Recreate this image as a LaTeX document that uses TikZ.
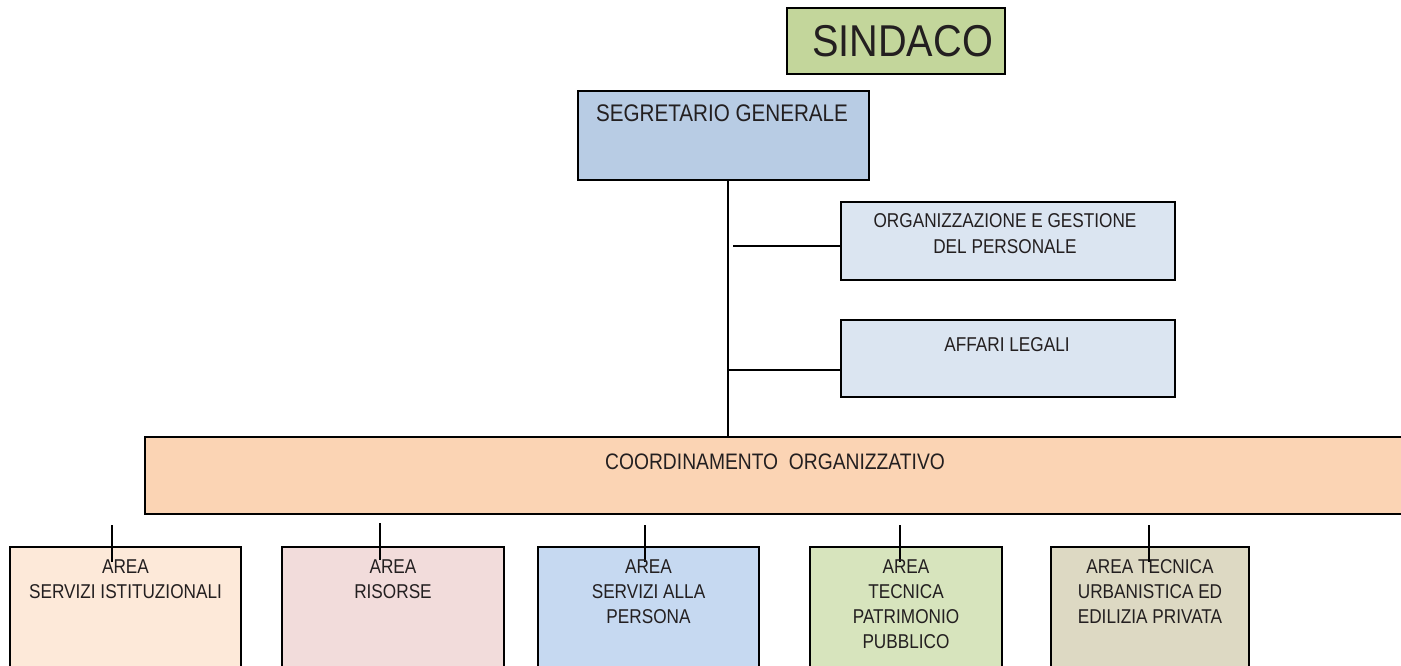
\documentclass[tikz,border=0pt]{standalone}
\usepackage{fontspec}
\setmainfont{Liberation Sans}[FakeStretch=0.86]
\newfontfamily\bigsans{Liberation Sans}[FakeStretch=0.89]
\definecolor{cSind}{HTML}{C3D69B}
\definecolor{cSegr}{HTML}{B8CCE4}
\definecolor{cStaff}{HTML}{DBE5F1}
\definecolor{cCoord}{HTML}{FBD4B4}
\definecolor{cB1}{HTML}{FDE9D9}
\definecolor{cB2}{HTML}{F2DCDB}
\definecolor{cB3}{HTML}{C6D9F1}
\definecolor{cB4}{HTML}{D7E4BD}
\definecolor{cB5}{HTML}{DDD9C3}
\definecolor{ink}{HTML}{231F20}
\tikzset{
  box/.style={draw=black, line width=1pt, rectangle, inner sep=0pt},
  lbl/.style={anchor=north, inner sep=0pt, align=center, text=ink},
  small/.style={font=\fontsize{10}{12.5}\selectfont},
  conn/.style={draw=black, line width=0.8pt}
}
\begin{document}
\begin{tikzpicture}[x=0.5pt,y=-0.5pt]
\useasboundingbox (0,0) rectangle (1401,665);
\clip (0,0) rectangle (1401,665);
% boxes
\node[box, line width=1.4pt, fill=cSind, minimum width=109pt, minimum height=33pt] (sindaco) at (896,41) {};
\node[box, fill=cSegr, minimum width=145.5pt, minimum height=44.5pt] (segr) at (723.5,135.5) {};
\node[box, fill=cStaff, minimum width=167pt, minimum height=39pt] (org) at (1008,241) {};
\node[box, fill=cStaff, minimum width=167pt, minimum height=38.5pt] (aff) at (1008,358.5) {};
\node[box, fill=cCoord, minimum width=637.5pt, minimum height=38.5pt] (coord) at (782.5,475.5) {};
\node[box, fill=cB1, minimum width=115.5pt, minimum height=76.5pt] (b1) at (125.5,623.5) {};
\node[box, fill=cB2, minimum width=111pt, minimum height=76.5pt] (b2) at (393,623.5) {};
\node[box, fill=cB3, minimum width=110.5pt, minimum height=76.5pt] (b3) at (648.5,623.5) {};
\node[box, fill=cB4, minimum width=96pt, minimum height=76.5pt] (b4) at (906,623.5) {};
\node[box, fill=cB5, minimum width=99pt, minimum height=76.5pt] (b5) at (1150,623.5) {};
% connectors
\coordinate (trunk) at (728,180);
\draw[conn] (trunk) -- (trunk |- coord.north);
\coordinate (orgL) at (733,246);
\draw[conn] (orgL) -- (orgL -| org.west);
\coordinate (affL) at (728,370);
\draw[conn] (affL) -- (affL -| aff.west);
\coordinate (s1) at (112,525);
\coordinate (s2) at (380,523);
\coordinate (s3) at (645,525);
\coordinate (s4) at (900,525);
\coordinate (s5) at (1149,525);
\foreach \s in {s1,s2,s3,s4,s5} {\draw[conn] (\s) -- ++(0,37);}
% labels
\node[lbl, font=\bigsans\fontsize{22.3}{26}\selectfont] (tSind) at (902.5,25) {SINDACO};
\node[lbl, font=\fontsize{12}{14}\selectfont] (tSegr) at (722,104) {SEGRETARIO GENERALE};
\node[lbl, font=\fontsize{10}{13.3}\selectfont] (tOrg) at (1005,213) {ORGANIZZAZIONE E GESTIONE\\DEL PERSONALE};
\node[lbl, small] (tAff) at (1007,337) {AFFARI LEGALI};
\node[lbl, font=\fontsize{11.2}{13}\selectfont] (tCoord) at (775,453) {COORDINAMENTO\ \ ORGANIZZATIVO};
\node[lbl, small] (tB1) at (125.5,559) {AREA\\SERVIZI ISTITUZIONALI};
\node[lbl, small] (tB2) at (393,559) {AREA\\RISORSE};
\node[lbl, small] (tB3) at (648.5,559) {AREA\\SERVIZI ALLA\\PERSONA};
\node[lbl, small] (tB4) at (906,559) {AREA\\TECNICA\\PATRIMONIO\\PUBBLICO};
\node[lbl, small] (tB5) at (1150,559) {AREA TECNICA\\URBANISTICA ED\\EDILIZIA PRIVATA};
\end{tikzpicture}
\end{document}
